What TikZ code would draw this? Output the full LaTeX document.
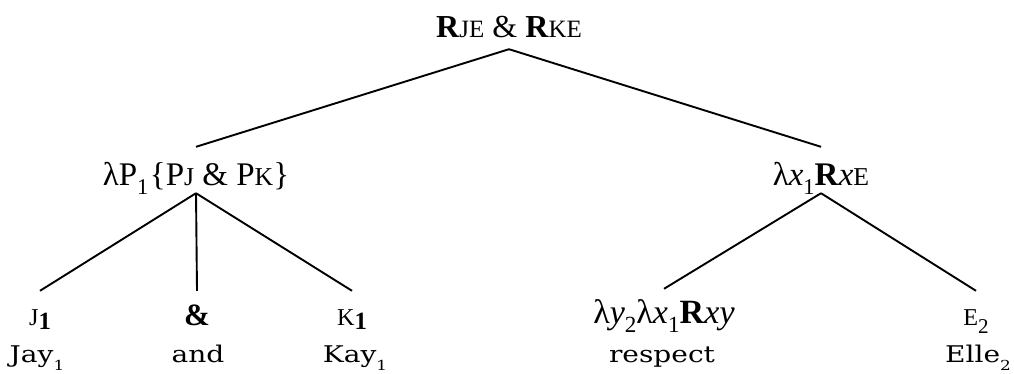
\documentclass[tikz,border=0pt]{standalone}
\usepackage{fontspec}
\setmainfont{Liberation Serif}
\newfontfamily\wordfont[FakeStretch=1.22]{DejaVu Serif}
\newcommand\smc[1]{\scalebox{0.78}{#1}}
\newcommand\sbs[1]{\raisebox{-0.28em}{\scalebox{0.68}{#1}}}
\newcommand\bsb[1]{\raisebox{-0.15em}{\scalebox{0.8}{\textbf{#1}}}}
\newcommand\wsb[1]{\raisebox{-0.35em}{\scalebox{0.6}{#1}}}
\begin{document}
\begin{tikzpicture}[x=1pt,y=-1pt,
  lab/.style={inner sep=0pt, anchor=base},
  toplab/.style={lab, font=\fontsize{32}{38}\selectfont, text height=22pt, text depth=12pt},
  midlab/.style={lab, font=\fontsize{33}{40}\selectfont, text height=38pt, text depth=8pt},
  leaflab/.style={lab, font=\fontsize{31}{36}\selectfont, text height=34pt, text depth=0pt},
  word/.style={lab, font=\wordfont\fontsize{23}{27}\selectfont},
  edge/.style={line width=1.9pt}]
\useasboundingbox (0,0) rectangle (1014,373);
\node[toplab] (root) at (509,37) {\textbf{R}\smc{JE} \& \textbf{R}\smc{KE}};
\node[midlab] (L) at (196,185) {λP\sbs{1}\kern1.5pt\{P\smc{J} \& P\smc{K}\}};
\node[midlab] (R) at (821,185) {λ\textit{x}\sbs{1}\textbf{R}\textit{x}\smc{E}};
\node[leaflab] (J1) at (40,325) {\smc{J}\bsb{1}};
\node[leaflab] (amp) at (197,325) {\textbf{\&}};
\node[leaflab] (K1) at (352,325) {\smc{K}\bsb{1}};
\node[leaflab, font=\fontsize{34}{40}\selectfont] (lxy) at (664,323) {λ\textit{y}\sbs{2}λ\textit{x}\sbs{1}\textbf{R}\textit{xy}};
\node[leaflab] (E2) at (976,325) {\smc{E}\sbs{2}};
\node[word] (w1) at (37,362) {Jay\wsb{1}};
\node[word] (w2) at (198,362) {and};
\node[word] (w3) at (355,362) {Kay\wsb{1}};
\node[word] (w4) at (662,362) {respect};
\node[word] (w5) at (978,362) {Elle\wsb{2}};
\draw[edge] (root.south) -- (L.north);
\draw[edge] (root.south) -- (R.north);
\draw[edge] (L.south) -- (J1.north);
\draw[edge] (L.south) -- (amp.north);
\draw[edge] (L.south) -- (K1.north);
\draw[edge] (R.south) -- (lxy.north);
\draw[edge] (R.south) -- (E2.north);
\end{tikzpicture}
\end{document}
